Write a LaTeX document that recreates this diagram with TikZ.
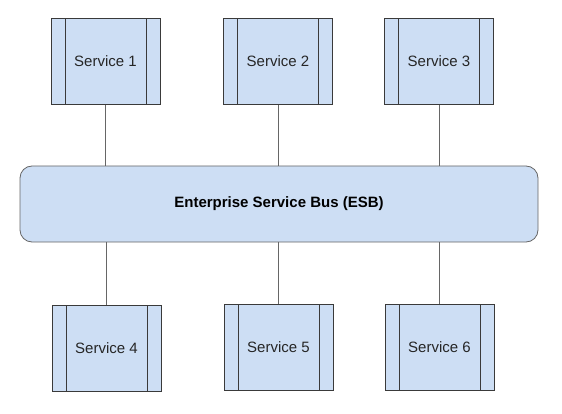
\documentclass[tikz,border=0pt]{standalone}
\usepackage{fontspec}
\setmainfont{Liberation Sans}
\usetikzlibrary{calc,positioning}
\definecolor{BusFill}{HTML}{CDDEF4}
\definecolor{InkDark}{HTML}{3A3A3A}
\definecolor{InkSoft}{HTML}{666666}
\definecolor{TextInk}{HTML}{262626}
\tikzset{
  svc/.style={rectangle, draw=InkDark, line width=0.8pt, fill=BusFill,
              minimum width=109pt, minimum height=86pt, inner sep=0pt,
              font=\fontsize{15}{18}\selectfont, text=TextInk,
              path picture={
                \draw[InkDark, line width=0.8pt]
                  ([xshift=14pt]path picture bounding box.north west) -- ([xshift=14pt]path picture bounding box.south west);
                \draw[InkDark, line width=0.8pt]
                  ([xshift=-14pt]path picture bounding box.north east) -- ([xshift=-14pt]path picture bounding box.south east);
              }},
  bus/.style={rectangle, rounded corners=12pt, draw=InkSoft, line width=0.8pt, fill=BusFill,
              minimum width=518pt, minimum height=76pt, inner sep=0pt,
              font=\fontsize{15}{18}\selectfont\bfseries, text=black},
  link/.style={line width=0.8pt, draw=InkSoft},
}
\begin{document}
\begin{tikzpicture}[x=1pt, y=-1pt]
\useasboundingbox (0,0) rectangle (562,414);
% ---------- bus
\node[bus] (esb) at (279,204) {Enterprise Service Bus (ESB)};
% ---------- services above
\node[svc] (s1) at (105.5,61.5) {Service 1};
\node[svc] (s2) at (278,61.5) {Service 2};
\node[svc] (s3) at (439,61.5) {Service 3};
% ---------- services below
\node[svc] (s4) at (106.5,348) {Service 4};
\node[svc] (s5) at (278.5,347.5) {Service 5};
\node[svc] (s6) at (439.5,347.5) {Service 6};
% ---------- links to the bus
\foreach \s in {s1,s2,s3}{
  \draw[link] (\s.south) -- (\s.south |- esb.north);
}
\foreach \s in {s4,s5,s6}{
  \draw[link] (\s.north) -- (\s.north |- esb.south);
}
\end{tikzpicture}
\end{document}
